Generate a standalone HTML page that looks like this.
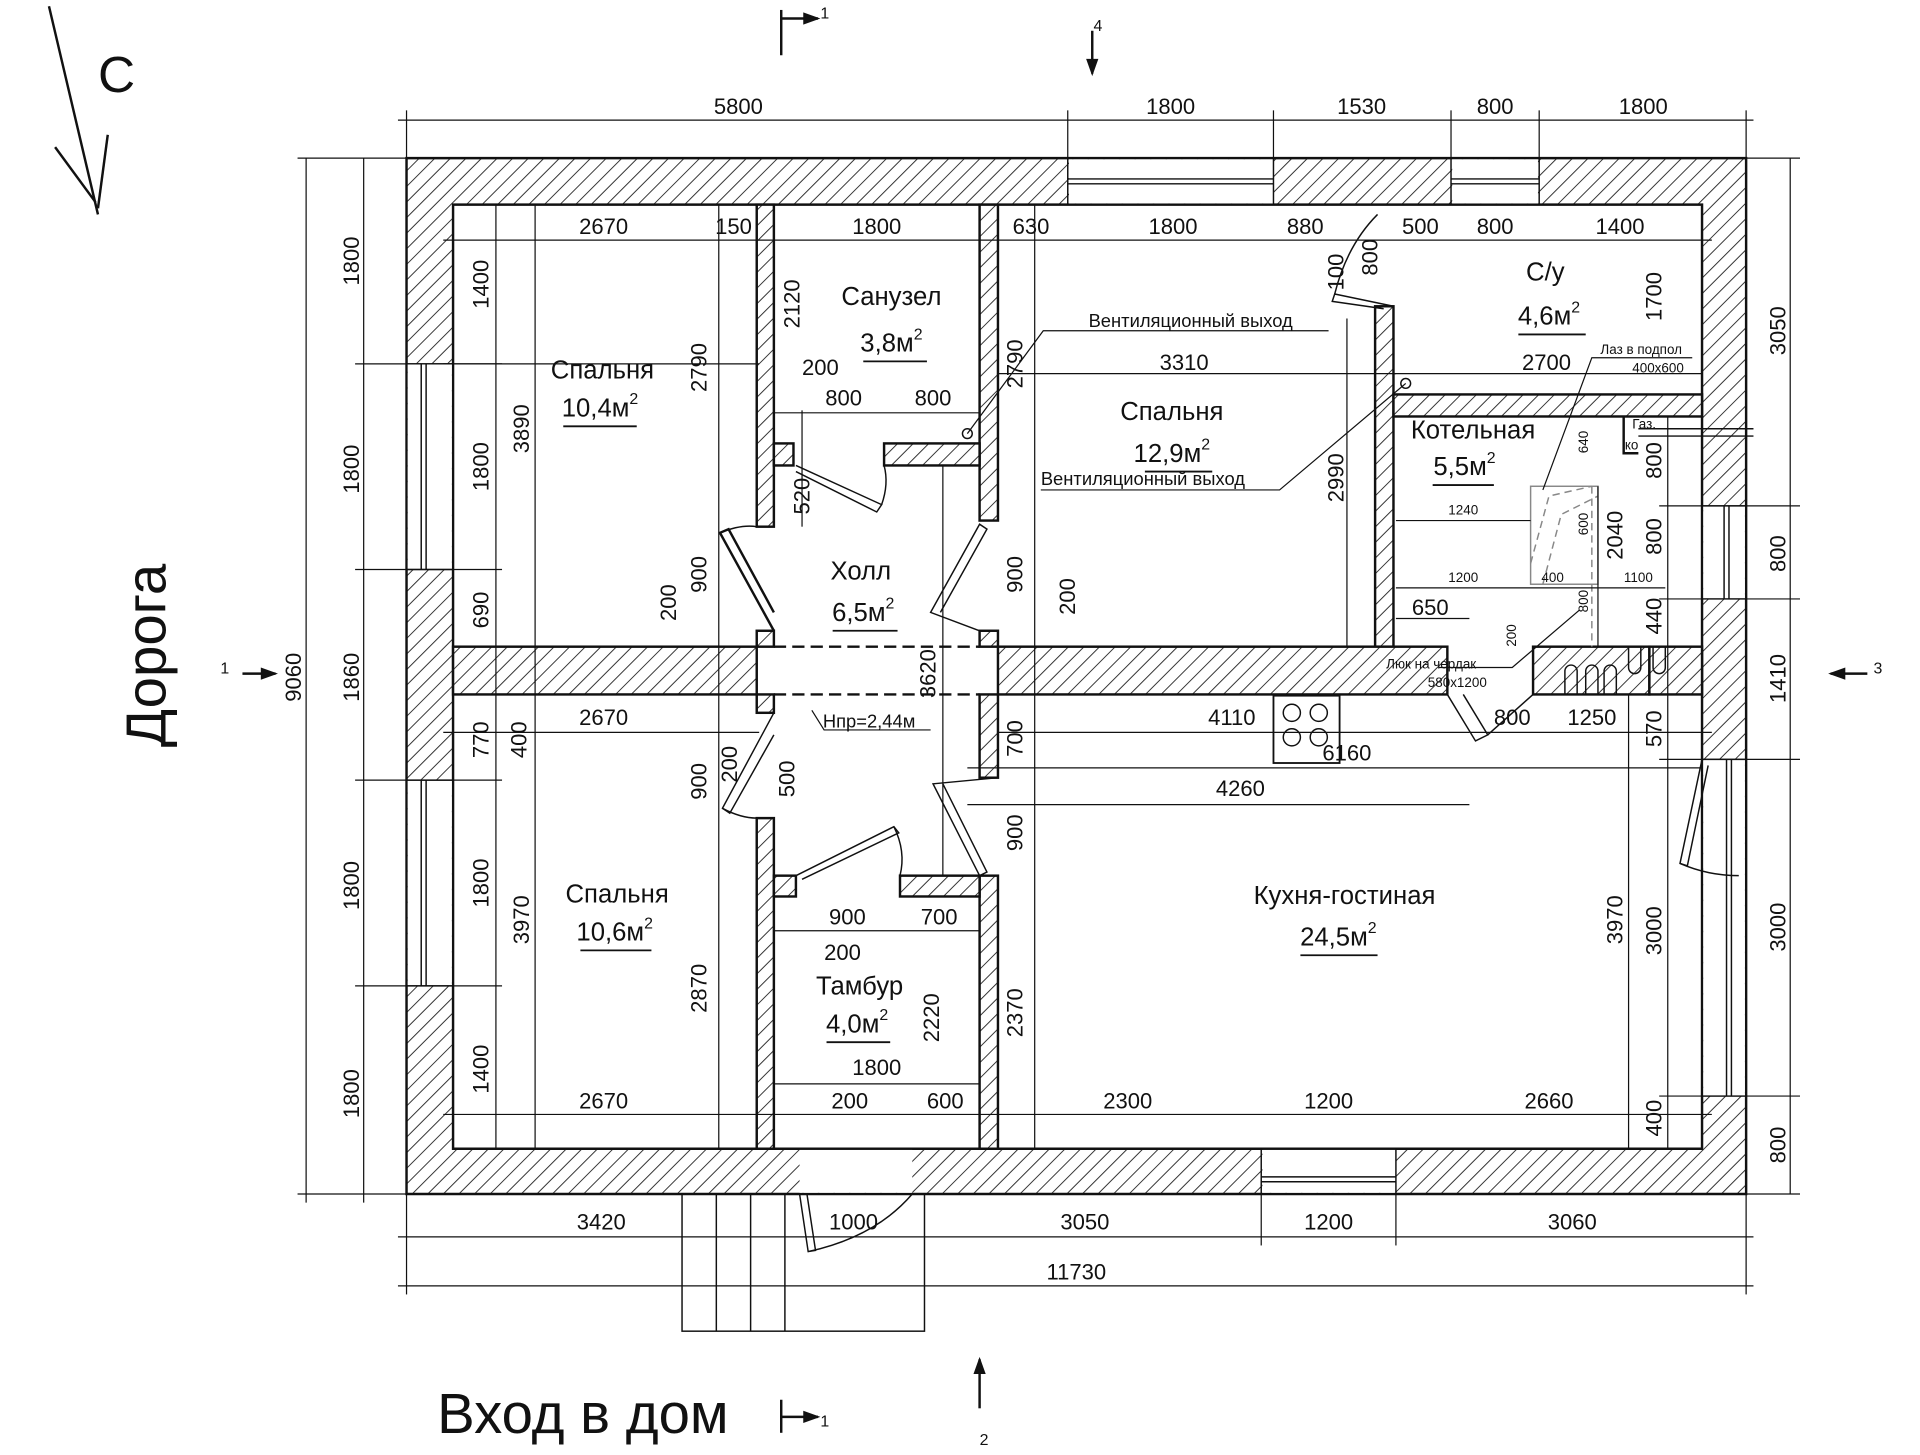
<!DOCTYPE html>
<html><head><meta charset="utf-8"><style>
html,body{margin:0;padding:0;background:#fff;}
svg{display:block;}
text{font-family:"Liberation Sans","DejaVu Sans",sans-serif;fill:#111;}
.d{font-size:18px;}
.s{font-size:11px;}
.r{font-size:21px;}
</style></head><body>
<svg width="1920" height="1455" viewBox="0 0 1568 1188" xmlns="http://www.w3.org/2000/svg">
<defs>
<pattern id="h" width="9" height="9" patternUnits="userSpaceOnUse" patternTransform="rotate(45)">
<rect width="9" height="9" fill="#fff"/>
<line x1="0" y1="0" x2="0" y2="9" stroke="#333" stroke-width="1.6"/>
</pattern>
</defs>
<g stroke="#111" stroke-width="2" fill="url(#h)">
<path fill-rule="evenodd" d="M332 129H1426V975H332Z M370 167H1390V938H370Z"/>
<rect x="618" y="167" width="14" height="263"/>
<rect x="618" y="515" width="14" height="13"/>
<rect x="618" y="567" width="14" height="15"/>
<rect x="618" y="668" width="14" height="270"/>
<rect x="800" y="167" width="15" height="258"/>
<rect x="800" y="515" width="15" height="13"/>
<rect x="800" y="567" width="15" height="68"/>
<rect x="800" y="715" width="15" height="223"/>
<rect x="632" y="362" width="16" height="18"/>
<rect x="722" y="362" width="78" height="18"/>
<rect x="632" y="715" width="18" height="17"/>
<rect x="735" y="715" width="65" height="17"/>
<rect x="1123" y="250" width="15" height="278"/>
<rect x="1138" y="322" width="252" height="18"/>
<rect x="370" y="528" width="248" height="39"/>
<rect x="815" y="528" width="367" height="39"/>
<rect x="1252" y="528" width="95" height="39"/>
<rect x="1347" y="528" width="43" height="39"/>
</g>
<g fill="#fff" stroke="none">
<rect x="873" y="130" width="167" height="36"/>
<rect x="1186" y="130" width="70" height="36"/>
<rect x="333" y="297" width="36" height="168"/>
<rect x="333" y="637" width="36" height="168"/>
<rect x="1391" y="413" width="34" height="76"/>
<rect x="1391" y="620" width="34" height="275"/>
<rect x="1031" y="939" width="109" height="35"/>
<rect x="653" y="939" width="92" height="35"/>
</g>
<g stroke="#111" stroke-width="1.2" fill="none">
<line x1="872" y1="129" x2="872" y2="167"/><line x1="1040" y1="129" x2="1040" y2="167"/>
<line x1="872" y1="146" x2="1040" y2="146"/><line x1="872" y1="150" x2="1040" y2="150"/>
<line x1="1185" y1="129" x2="1185" y2="167"/><line x1="1257" y1="129" x2="1257" y2="167"/>
<line x1="1185" y1="146" x2="1257" y2="146"/><line x1="1185" y1="150" x2="1257" y2="150"/>
<line x1="332" y1="297" x2="370" y2="297"/><line x1="332" y1="465" x2="370" y2="465"/>
<line x1="344" y1="297" x2="344" y2="465"/><line x1="348" y1="297" x2="348" y2="465"/>
<line x1="332" y1="637" x2="370" y2="637"/><line x1="332" y1="805" x2="370" y2="805"/>
<line x1="344" y1="637" x2="344" y2="805"/><line x1="348" y1="637" x2="348" y2="805"/>
<line x1="1390" y1="413" x2="1426" y2="413"/><line x1="1390" y1="489" x2="1426" y2="489"/>
<line x1="1408" y1="413" x2="1408" y2="489"/><line x1="1412" y1="413" x2="1412" y2="489"/>
<line x1="1390" y1="620" x2="1426" y2="620"/><line x1="1390" y1="895" x2="1426" y2="895"/>
<line x1="1410" y1="620" x2="1410" y2="895"/><line x1="1414" y1="620" x2="1414" y2="895"/>
<line x1="1030" y1="938" x2="1030" y2="975"/><line x1="1140" y1="938" x2="1140" y2="975"/>
<line x1="1030" y1="961" x2="1140" y2="961"/><line x1="1030" y1="965" x2="1140" y2="965"/>
<path d="M632 515 L588 435 L595 432 L632 500" stroke-width="2"/><path d="M588 435 Q605 428 618 430"/>
<path d="M800 515 L760 500 L800 428 L806 432 L768 500"/>
<path d="M650 380 L720 412 L716 418 L650 385"/><path d="M720 412 Q726 395 722 380"/>
<path d="M632 582 L590 660 L596 664 L632 600"/><path d="M590 660 Q605 668 618 668"/>
<path d="M815 635 L762 640 L800 715 L806 712 L770 640"/>
<path d="M650 715 L730 675 L734 680 L655 718"/><path d="M730 675 Q740 695 735 715"/>
<path d="M653 975 L660 1022 L666 1021 L659 975"/><path d="M660 1022 Q715 1010 745 975"/>
<path d="M1138 250 L1090 240 L1088 246 L1130 252"/><path d="M1090 240 Q1100 200 1125 175"/>
<path d="M1182 567 L1205 605 L1215 600 L1195 567"/><path d="M1252 567 L1215 600"/>
<path d="M1390 620 L1372 705 L1378 707 L1395 625"/><path d="M1372 705 Q1395 715 1420 715"/>
<rect x="557" y="975" width="198" height="112"/>
<line x1="585" y1="975" x2="585" y2="1087"/><line x1="613" y1="975" x2="613" y2="1087"/><line x1="641" y1="975" x2="641" y2="1087"/>
<line x1="632" y1="528" x2="800" y2="528" stroke-dasharray="10,5" stroke-width="2"/>
<line x1="632" y1="567" x2="800" y2="567" stroke-dasharray="10,5" stroke-width="2"/>
<rect x="1040" y="568" width="54" height="55" stroke-width="1.5"/>
<circle cx="1055" cy="582" r="7"/><circle cx="1077" cy="582" r="7"/><circle cx="1055" cy="602" r="7"/><circle cx="1077" cy="602" r="7"/>
<path d="M1278 567 V548 a5 5 0 0 1 10 0 V567 M1295 567 V548 a5 5 0 0 1 10 0 V567 M1310 567 V548 a5 5 0 0 1 10 0 V567"/>
<path d="M1330 528 V545 a5 5 0 0 0 10 0 V528 M1350 528 V545 a5 5 0 0 0 10 0 V528"/>
<rect x="1250" y="397" width="55" height="80" stroke="#888"/>
<path d="M1250 460 L1265 405 L1300 397 M1260 477 L1275 420 L1305 405" stroke="#888" stroke-dasharray="6,4"/>
<line x1="1300" y1="397" x2="1300" y2="528" stroke="#888" stroke-dasharray="6,4"/>
<path d="M1326 340 V370 H1338" stroke-width="2"/>
<line x1="1338" y1="350" x2="1432" y2="350"/><line x1="1338" y1="356" x2="1432" y2="356"/>
<circle cx="790" cy="354" r="4"/><circle cx="1148" cy="313" r="4"/>
</g>
<g stroke="#111" stroke-width="1" fill="none">
<line x1="325" y1="98" x2="1432" y2="98"/>
<line x1="332" y1="90" x2="332" y2="129"/><line x1="872" y1="90" x2="872" y2="129"/><line x1="1040" y1="90" x2="1040" y2="129"/><line x1="1185" y1="90" x2="1185" y2="129"/><line x1="1257" y1="90" x2="1257" y2="129"/><line x1="1426" y1="90" x2="1426" y2="129"/>
<line x1="362" y1="196" x2="1398" y2="196"/>
<line x1="362" y1="297" x2="620" y2="297"/>
<line x1="250" y1="129" x2="250" y2="982"/><line x1="297" y1="129" x2="297" y2="982"/>
<line x1="243" y1="129" x2="340" y2="129"/><line x1="243" y1="975" x2="340" y2="975"/>
<line x1="290" y1="297" x2="410" y2="297"/><line x1="290" y1="465" x2="410" y2="465"/><line x1="290" y1="637" x2="410" y2="637"/><line x1="290" y1="805" x2="410" y2="805"/>
<line x1="405" y1="167" x2="405" y2="938"/><line x1="437" y1="167" x2="437" y2="938"/><line x1="587" y1="167" x2="587" y2="938"/>
<line x1="1462" y1="129" x2="1462" y2="975"/><line x1="1355" y1="413" x2="1470" y2="413"/><line x1="1355" y1="489" x2="1470" y2="489"/><line x1="1355" y1="620" x2="1470" y2="620"/><line x1="1355" y1="895" x2="1470" y2="895"/>
<line x1="1330" y1="567" x2="1330" y2="938"/><line x1="1362" y1="340" x2="1362" y2="938"/>
<line x1="1420" y1="129" x2="1470" y2="129"/><line x1="1420" y1="975" x2="1470" y2="975"/>
<line x1="325" y1="1010" x2="1432" y2="1010"/><line x1="325" y1="1050" x2="1432" y2="1050"/>
<line x1="332" y1="975" x2="332" y2="1057"/><line x1="1426" y1="975" x2="1426" y2="1057"/><line x1="1030" y1="975" x2="1030" y2="1017"/><line x1="1140" y1="975" x2="1140" y2="1017"/>
<line x1="362" y1="910" x2="1398" y2="910"/><line x1="362" y1="598" x2="620" y2="598"/>
<line x1="815" y1="598" x2="1200" y2="598"/><line x1="1200" y1="598" x2="1398" y2="598"/>
<line x1="790" y1="627" x2="1390" y2="627"/><line x1="790" y1="657" x2="1200" y2="657"/>
<line x1="815" y1="305" x2="1140" y2="305"/><line x1="1138" y1="305" x2="1390" y2="305"/>
<line x1="845" y1="167" x2="845" y2="938"/><line x1="1100" y1="260" x2="1100" y2="528"/>
<line x1="655" y1="335" x2="655" y2="430"/><line x1="632" y1="337" x2="800" y2="337"/>
<line x1="632" y1="760" x2="800" y2="760"/><line x1="632" y1="885" x2="800" y2="885"/>
<line x1="770" y1="380" x2="770" y2="715"/>
<line x1="1140" y1="425" x2="1250" y2="425"/><line x1="1140" y1="480" x2="1360" y2="480"/><line x1="1140" y1="505" x2="1200" y2="505"/>
<line x1="1305" y1="397" x2="1305" y2="528"/>
<polyline points="790,354 852,270 1085,270"/>
<polyline points="1148,313 1045,400 850,400"/>
<polyline points="1175,545 1235,545 1290,498"/>
<polyline points="1260,400 1300,292 1382,292"/>
<polyline points="663,580 673,596 760,596"/>
</g>
<g stroke="#111" stroke-width="2" fill="none">
<line x1="638" y1="8" x2="638" y2="45"/><line x1="638" y1="15" x2="668" y2="15"/>
<line x1="638" y1="1143" x2="638" y2="1170"/><line x1="638" y1="1157" x2="668" y2="1157"/>
<line x1="892" y1="25" x2="892" y2="60"/><line x1="800" y1="1110" x2="800" y2="1150"/>
<line x1="198" y1="550" x2="225" y2="550"/><line x1="1495" y1="550" x2="1525" y2="550"/>
<line x1="40" y1="5" x2="80" y2="175"/><line x1="45" y1="120" x2="78" y2="165"/><line x1="88" y1="110" x2="80" y2="170"/>
</g>
<g fill="#111" stroke="none">
<path d="M656 10 L670 15 L656 20Z"/><path d="M656 1152 L670 1157 L656 1162Z"/>
<path d="M887 48 L892 62 L897 48Z"/><path d="M795 1122 L800 1108 L805 1122Z"/>
<path d="M213 545 L227 550 L213 555Z"/><path d="M1507 545 L1493 550 L1507 555Z"/>
</g>
<g class="d">
<text x="603" y="93" text-anchor="middle">5800</text><text x="956" y="93" text-anchor="middle">1800</text><text x="1112" y="93" text-anchor="middle">1530</text><text x="1221" y="93" text-anchor="middle">800</text><text x="1342" y="93" text-anchor="middle">1800</text>
<text x="493" y="191" text-anchor="middle">2670</text><text x="599" y="191" text-anchor="middle">150</text><text x="716" y="191" text-anchor="middle">1800</text><text x="842" y="191" text-anchor="middle">630</text><text x="958" y="191" text-anchor="middle">1800</text><text x="1066" y="191" text-anchor="middle">880</text><text x="1160" y="191" text-anchor="middle">500</text><text x="1221" y="191" text-anchor="middle">800</text><text x="1323" y="191" text-anchor="middle">1400</text>
<text x="670" y="306" text-anchor="middle">200</text><text x="689" y="331" text-anchor="middle">800</text><text x="762" y="331" text-anchor="middle">800</text>
<text x="967" y="302" text-anchor="middle">3310</text><text x="1263" y="302" text-anchor="middle">2700</text>
<text x="493" y="592" text-anchor="middle">2670</text><text x="1006" y="592" text-anchor="middle">4110</text><text x="1100" y="621" text-anchor="middle">6160</text><text x="1013" y="650" text-anchor="middle">4260</text><text x="1235" y="592" text-anchor="middle">800</text><text x="1300" y="592" text-anchor="middle">1250</text><text x="1168" y="502" text-anchor="middle">650</text>
<text x="692" y="755" text-anchor="middle">900</text><text x="767" y="755" text-anchor="middle">700</text><text x="688" y="784" text-anchor="middle">200</text><text x="716" y="878" text-anchor="middle">1800</text>
<text x="493" y="905" text-anchor="middle">2670</text><text x="694" y="905" text-anchor="middle">200</text><text x="772" y="905" text-anchor="middle">600</text><text x="921" y="905" text-anchor="middle">2300</text><text x="1085" y="905" text-anchor="middle">1200</text><text x="1265" y="905" text-anchor="middle">2660</text>
<text x="491" y="1004" text-anchor="middle">3420</text><text x="697" y="1004" text-anchor="middle">1000</text><text x="886" y="1004" text-anchor="middle">3050</text><text x="1085" y="1004" text-anchor="middle">1200</text><text x="1284" y="1004" text-anchor="middle">3060</text>
<text x="879" y="1045" text-anchor="middle">11730</text>
</g>
<g class="d" text-anchor="middle">
<text transform="translate(293,213) rotate(-90)">1800</text><text transform="translate(293,383) rotate(-90)">1800</text><text transform="translate(293,553) rotate(-90)">1860</text><text transform="translate(293,723) rotate(-90)">1800</text><text transform="translate(293,893) rotate(-90)">1800</text>
<text transform="translate(246,553) rotate(-90)">9060</text>
<text transform="translate(399,232) rotate(-90)">1400</text><text transform="translate(399,381) rotate(-90)">1800</text><text transform="translate(399,498) rotate(-90)">690</text><text transform="translate(399,604) rotate(-90)">770</text><text transform="translate(430,604) rotate(-90)">400</text><text transform="translate(399,721) rotate(-90)">1800</text><text transform="translate(399,873) rotate(-90)">1400</text>
<text transform="translate(432,350) rotate(-90)">3890</text><text transform="translate(432,751) rotate(-90)">3970</text>
<text transform="translate(577,300) rotate(-90)">2790</text><text transform="translate(577,469) rotate(-90)">900</text><text transform="translate(552,492) rotate(-90)">200</text>
<text transform="translate(577,638) rotate(-90)">900</text><text transform="translate(602,624) rotate(-90)">200</text><text transform="translate(577,807) rotate(-90)">2870</text>
<text transform="translate(653,248) rotate(-90)">2120</text><text transform="translate(661,405) rotate(-90)">520</text><text transform="translate(649,636) rotate(-90)">500</text>
<text transform="translate(764,550) rotate(-90)">3620</text><text transform="translate(767,831) rotate(-90)">2220</text>
<text transform="translate(835,297) rotate(-90)">2790</text><text transform="translate(835,469) rotate(-90)">900</text><text transform="translate(878,487) rotate(-90)">200</text>
<text transform="translate(835,603) rotate(-90)">700</text><text transform="translate(835,680) rotate(-90)">900</text><text transform="translate(835,827) rotate(-90)">2370</text>
<text transform="translate(1097,390) rotate(-90)">2990</text><text transform="translate(1097,222) rotate(-90)">100</text><text transform="translate(1125,210) rotate(-90)">800</text>
<text transform="translate(1357,242) rotate(-90)">1700</text><text transform="translate(1357,376) rotate(-90)">800</text><text transform="translate(1357,438) rotate(-90)">800</text><text transform="translate(1357,503) rotate(-90)">440</text><text transform="translate(1325,437) rotate(-90)">2040</text><text transform="translate(1357,595) rotate(-90)">570</text><text transform="translate(1357,760) rotate(-90)">3000</text><text transform="translate(1357,913) rotate(-90)">400</text><text transform="translate(1325,751) rotate(-90)">3970</text>
<text transform="translate(1458,270) rotate(-90)">3050</text><text transform="translate(1458,452) rotate(-90)">800</text><text transform="translate(1458,554) rotate(-90)">1410</text><text transform="translate(1458,757) rotate(-90)">3000</text><text transform="translate(1458,935) rotate(-90)">800</text>
</g>
<g class="s">
<text x="1195" y="420" text-anchor="middle">1240</text><text x="1195" y="475" text-anchor="middle">1200</text><text x="1268" y="475" text-anchor="middle">400</text><text x="1338" y="475" text-anchor="middle">1100</text>
<text transform="translate(1297,370) rotate(-90)">640</text><text transform="translate(1297,437) rotate(-90)">600</text><text transform="translate(1297,500) rotate(-90)">800</text><text transform="translate(1238,528) rotate(-90)">200</text>
<text x="1307" y="289">Лаз в подпол</text><text x="1333" y="304">400x600</text>
<text x="1132" y="546">Люк на чердак</text><text x="1166" y="561">580x1200</text>
<text x="1333" y="350">Газ.</text><text x="1327" y="367">ко</text>
</g>
<g font-size="15">
<text x="889" y="267">Вентиляционный выход</text>
<text x="850" y="396">Вентиляционный выход</text>
<text x="672" y="594">Нпр=2,44м</text>
</g>
<g class="r" text-anchor="middle">
<text x="492" y="309">Спальня</text><text x="490" y="340">10,4м<tspan font-size="13" dy="-10">2</tspan></text>
<text x="728" y="249">Санузел</text><text x="728" y="287">3,8м<tspan font-size="13" dy="-10">2</tspan></text>
<text x="957" y="343">Спальня</text><text x="957" y="377">12,9м<tspan font-size="13" dy="-10">2</tspan></text>
<text x="1262" y="229">С/у</text><text x="1265" y="265">4,6м<tspan font-size="13" dy="-10">2</tspan></text>
<text x="1203" y="358">Котельная</text><text x="1196" y="388">5,5м<tspan font-size="13" dy="-10">2</tspan></text>
<text x="703" y="473">Холл</text><text x="705" y="507">6,5м<tspan font-size="13" dy="-10">2</tspan></text>
<text x="504" y="737">Спальня</text><text x="502" y="768">10,6м<tspan font-size="13" dy="-10">2</tspan></text>
<text x="1098" y="738">Кухня-гостиная</text><text x="1093" y="772">24,5м<tspan font-size="13" dy="-10">2</tspan></text>
<text x="702" y="812">Тамбур</text><text x="700" y="843">4,0м<tspan font-size="13" dy="-10">2</tspan></text>
</g>
<g stroke="#111" stroke-width="1.5">
<line x1="460" y1="348" x2="520" y2="348"/><line x1="705" y1="295" x2="757" y2="295"/><line x1="935" y1="385" x2="990" y2="385"/><line x1="1240" y1="273" x2="1295" y2="273"/><line x1="1170" y1="396" x2="1220" y2="396"/><line x1="680" y1="515" x2="733" y2="515"/><line x1="474" y1="776" x2="532" y2="776"/><line x1="1062" y1="780" x2="1125" y2="780"/><line x1="675" y1="851" x2="727" y2="851"/>
</g>
<text x="80" y="75" font-size="42">С</text>
<text transform="translate(135,610) rotate(-90)" font-size="46">Дорога</text>
<text x="357" y="1170" font-size="46">Вход в дом</text>
<g font-size="13"><text x="670" y="15">1</text><text x="670" y="1165">1</text><text x="893" y="25">4</text><text x="800" y="1180">2</text><text x="180" y="550">1</text><text x="1530" y="550">3</text></g>
</svg>
</body></html>
